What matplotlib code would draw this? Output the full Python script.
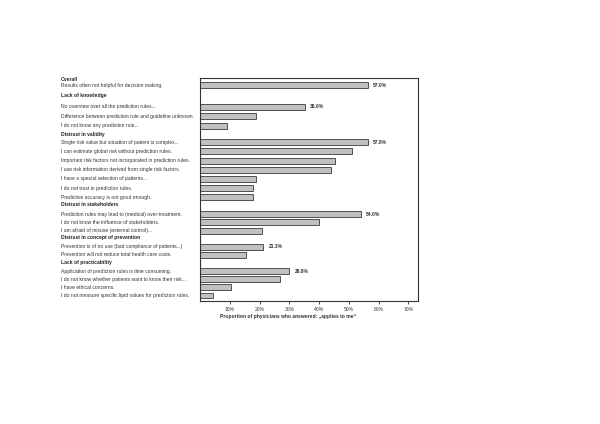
import matplotlib
matplotlib.use("Agg")
import matplotlib.pyplot as plt
from matplotlib.transforms import blended_transform_factory

plt.rcParams['font.family'] = ['Liberation Sans', 'DejaVu Sans']

# ---- data ----
groups = ["Overall", "Lack of knowledge", "Distrust in validity",
          "Distrust in stakeholders", "Distrust in concept of prevention",
          "Lack of practicability"]
items = [
    ["Results often not helpful for decision making."],
    ["No overview over all the prediction rules...",
     "Difference between prediction rule and guideline unknown.",
     "I do not know any prediction rule..."],
    ["Single risk value but situation of patient is complex...",
     "I can estimate global risk without prediction rules.",
     "Important risk factors not incorporated in prediction rules.",
     "I use risk information derived from single risk factors.",
     "I have a special selection of patients...",
     "I do not trust in prediction rules.",
     "Predictive accuracy is not good enough."],
    ["Prediction rules may lead to (medical) over-treatment.",
     "I do not know the influence of stakeholders.",
     "I am afraid of misuse (external control)..."],
    ["Prevention is of no use (bad compliance of patients...)",
     "Prevention will not reduce total health care costs."],
    ["Application of prediction rules is time consuming.",
     "I do not know whether patients want to know their risk...",
     "I have ethical concerns.",
     "I do not measure specific lipid values for prediction rules."],
]
values = [
    [56.3],
    [35.2, 18.8, 8.9],
    [56.3, 51.0, 45.2, 44.1, 18.8, 17.7, 17.7],
    [54.0, 40.1, 20.8],
    [21.2, 15.5],
    [29.9, 26.9, 10.4, 4.4],
]
value_labels = [
    ["57.0%"],
    ["35.0%", "", ""],
    ["57.8%", "", "", "", "", "", ""],
    ["54.0%", "", ""],
    ["21.3%", ""],
    ["29.8%", "", "", ""],
]
xticks = [10, 20, 30, 40, 50, 60, 70]
xtick_labels = ["10%", "20%", "30%", "40%", "50%", "60%", "70%"]
xlabel = "Proportion of physicians who answered: \u201eapplies to me\u201c"

# ---- layout ----
group_gaps = [0, 2.47, 1.88, 1.93, 1.86, 1.88]
group_steps = [1.0, 1.08, 1.04, 0.93, 0.875, 0.92]
header_offsets = [0.68, 1.33, 0.94, 1.05, 1.02, 0.94]

fig = plt.figure(figsize=(6.0, 4.24), dpi=100)
ax = fig.add_axes([200/600, 1-301/424, 218/600, 223/424])

trans = blended_transform_factory(fig.transFigure, ax.transData)
fs = 3.65
pos = 0.0
first = True
for g, labs, vals, vlabs, gap, step, hoff in zip(groups, items, values, value_labels,
                                                 group_gaps, group_steps, header_offsets):
    if not first:
        pos += gap
    ax.text(61/600, pos - hoff, g, transform=trans, fontsize=fs,
            fontweight='bold', va='center', ha='left', color='#222222')
    for i, (lab, v, vl) in enumerate(zip(labs, vals, vlabs)):
        if i > 0:
            pos += step
        ax.barh(pos, v, height=0.68, color='#c0c0c0', edgecolor='#505050',
                linewidth=0.7)
        ax.text(61/600, pos, lab, transform=trans, fontsize=fs,
                va='center', ha='left', color='#333333')
        if vl:
            ax.annotate(vl, (v, pos), xytext=(4.0, 0), textcoords='offset points',
                        fontsize=fs, fontweight='bold', va='center', ha='left',
                        color='#333333')
    first = False

ax.set_ylim(-0.8 + 223/8.8, -0.8)
ax.set_xlim(0, 73.2)
ax.set_yticks([])
ax.set_xticks(xticks)
ax.set_xticklabels(xtick_labels, fontsize=fs, color='#333333')
ax.tick_params(axis='x', length=2.5, width=0.6, pad=2, color='#333333')
for s in ax.spines.values():
    s.set_linewidth(0.8)
    s.set_color('#333333')
ax.set_xlabel(xlabel, fontsize=fs, fontweight='bold', color='#333333',
              labelpad=3)
ax.xaxis.set_label_coords(20/218, -0.058)
ax.xaxis.label.set_ha('left')

fig.savefig("out.png", dpi=100)
